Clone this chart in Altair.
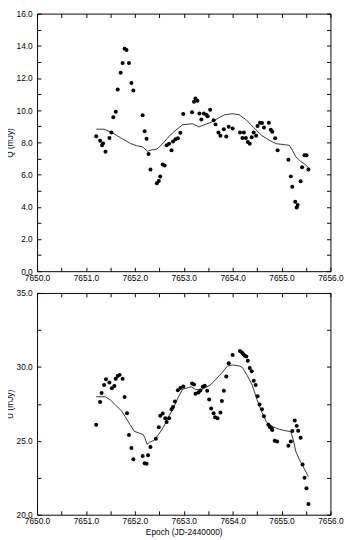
import altair as alt
import pandas as pd

# ---- data ----
q_x = [7651.21, 7651.29, 7651.33, 7651.35, 7651.40, 7651.48, 7651.52, 7651.56, 7651.61, 7651.65,
       7651.71, 7651.75, 7651.79, 7651.83, 7651.88, 7651.93, 7651.97, 7652.16, 7652.20, 7652.24,
       7652.28, 7652.32, 7652.45, 7652.49, 7652.52, 7652.57, 7652.61, 7652.65, 7652.70, 7652.75,
       7652.78, 7652.83, 7652.88, 7652.93, 7652.99, 7653.17, 7653.21, 7653.24, 7653.28, 7653.32,
       7653.36, 7653.41, 7653.46, 7653.49, 7653.54, 7653.61, 7653.65, 7653.71, 7653.75, 7653.82,
       7653.87, 7653.92, 7654.00, 7654.15, 7654.20, 7654.23, 7654.27, 7654.31, 7654.35, 7654.39,
       7654.43, 7654.48, 7654.51, 7654.56, 7654.60, 7654.64, 7654.74, 7654.78, 7654.81, 7654.87,
       7654.92, 7655.14, 7655.19, 7655.22, 7655.28, 7655.31, 7655.33, 7655.39, 7655.42, 7655.47,
       7655.51, 7655.55]
q_val = [8.38, 8.10, 7.82, 7.94, 7.42, 8.28, 8.62, 9.56, 9.90, 11.29,
         12.33, 12.93, 13.82, 13.74, 12.93, 11.69, 11.23, 9.68, 8.70, 8.22,
         7.28, 6.32, 5.47, 5.61, 5.88, 6.62, 6.56, 7.82, 7.92, 7.52,
         8.06, 8.20, 8.26, 8.60, 9.77, 9.88, 10.53, 10.73, 10.59, 9.79,
         9.42, 9.79, 9.72, 9.62, 10.03, 9.38, 9.12, 8.62, 8.42, 8.82,
         8.36, 8.98, 8.86, 8.62, 8.28, 8.62, 8.28, 8.02, 7.92, 8.32,
         8.62, 8.42, 9.02, 9.22, 9.20, 8.92, 9.22, 8.78, 8.66, 8.26,
         7.52, 6.92, 5.89, 5.25, 4.31, 3.95, 4.11, 5.58, 6.46, 7.20,
         7.20, 6.32]

q_line_x = [7651.21, 7651.37, 7651.53, 7651.70, 7651.92, 7652.03, 7652.16, 7652.26, 7652.35, 7652.45,
            7652.57, 7652.68, 7652.82, 7652.98, 7653.18, 7653.31, 7653.44, 7653.57, 7653.71, 7653.84,
            7654.00, 7654.13, 7654.27, 7654.43, 7654.60, 7654.76, 7654.89, 7655.06, 7655.16, 7655.22,
            7655.29, 7655.39, 7655.49, 7655.58]
q_line_val = [8.82, 8.82, 8.62, 8.30, 7.92, 7.80, 7.72, 7.45, 7.54, 7.58,
              7.92, 8.32, 8.72, 9.10, 9.16, 8.96, 9.12, 9.26, 9.52, 9.72,
              9.78, 9.72, 9.42, 8.92, 8.42, 8.12, 7.92, 7.86, 7.82, 7.52,
              7.12, 6.82, 6.62, 6.32]

u_x = [7651.21, 7651.29, 7651.32, 7651.37, 7651.41, 7651.48, 7651.53, 7651.58, 7651.61, 7651.65,
       7651.69, 7651.75, 7651.79, 7651.84, 7651.88, 7651.93, 7651.97, 7652.16, 7652.20, 7652.24,
       7652.27, 7652.32, 7652.43, 7652.49, 7652.52, 7652.57, 7652.62, 7652.65, 7652.70, 7652.75,
       7652.78, 7652.82, 7652.88, 7652.93, 7652.99, 7653.17, 7653.21, 7653.24, 7653.30, 7653.34,
       7653.39, 7653.43, 7653.48, 7653.52, 7653.56, 7653.61, 7653.64, 7653.69, 7653.75, 7653.78,
       7653.82, 7653.87, 7653.92, 7654.00, 7654.15, 7654.19, 7654.22, 7654.25, 7654.28, 7654.31,
       7654.35, 7654.39, 7654.43, 7654.47, 7654.51, 7654.55, 7654.60, 7654.64, 7654.73, 7654.76,
       7654.80, 7654.81, 7654.86, 7654.91, 7655.14, 7655.19, 7655.22, 7655.27, 7655.31, 7655.34,
       7655.39, 7655.43, 7655.47, 7655.51, 7655.55]
u_val = [26.09, 27.62, 28.23, 28.77, 29.16, 28.94, 28.55, 28.70, 29.20, 29.38,
         29.46, 29.20, 27.97, 26.87, 25.40, 24.52, 23.76, 23.98, 23.48, 23.44,
         24.02, 24.58, 25.14, 25.92, 26.70, 26.85, 26.53, 26.27, 26.53, 27.13,
         27.29, 27.66, 28.42, 28.58, 28.68, 28.88, 28.81, 28.18, 28.27, 28.40,
         28.66, 28.73, 28.38, 27.79, 27.19, 26.87, 26.59, 26.53, 26.92, 27.69,
         28.38, 29.35, 30.25, 30.80, 31.08, 30.97, 30.86, 30.75, 30.71, 30.42,
         29.92, 29.70, 29.06, 28.77, 28.01, 27.46, 27.13, 26.66, 26.09, 25.94,
         25.83, 25.73, 25.01, 24.96, 24.67, 24.96, 25.66, 26.38, 26.01, 25.68,
         25.21, 23.39, 22.50, 21.79, 20.72]

u_line_x = [7651.21, 7651.40, 7651.50, 7651.60, 7651.73, 7651.81, 7651.90, 7651.99, 7652.09, 7652.17,
            7652.21, 7652.25, 7652.30, 7652.39, 7652.49, 7652.59, 7652.68, 7652.78, 7652.88, 7652.98,
            7653.15, 7653.24, 7653.34, 7653.44, 7653.54, 7653.64, 7653.77, 7653.90, 7654.00, 7654.13,
            7654.20, 7654.30, 7654.40, 7654.50, 7654.60, 7654.69, 7654.83, 7654.96, 7655.09, 7655.19,
            7655.24, 7655.29, 7655.36, 7655.43, 7655.55]
u_line_val = [27.98, 27.98, 27.76, 27.44, 27.01, 26.60, 26.10, 25.64, 25.52, 25.42,
              25.16, 24.76, 24.90, 25.03, 25.45, 25.95, 26.58, 27.15, 27.90, 28.50,
              28.65, 28.48, 28.43, 28.59, 28.77, 29.09, 29.57, 30.07, 30.13, 30.07,
              29.96, 29.41, 28.76, 27.78, 26.92, 26.27, 25.94, 25.77, 25.68, 25.62,
              25.06, 24.30, 23.76, 23.33, 22.57]

x_ticks = [7650.0, 7650.5, 7651.0, 7651.5, 7652.0, 7652.5, 7653.0, 7653.5,
           7654.0, 7654.5, 7655.0, 7655.5, 7656.0]
q_ticks = [float(v) for v in range(0, 17)]
u_ticks = [20.0, 22.5, 25.0, 27.5, 30.0, 32.5, 35.0]

FONT = "Liberation Sans"
FS = 8.6
W = 303

common = dict(grid=False, domain=False, ticks=True, tickSize=4, offset=-4,
              tickColor="black", tickWidth=1, labelOverlap=False, labelFlush=False,
              labelFont=FONT, labelFontSize=FS, labelColor="black",
              titleFont=FONT, titleFontSize=FS, titleFontWeight="normal",
              titleColor="black")


def panel(px, pv, lx, lv, ytitle, ydom, yticks, ymod, height, xtitle, xpad):
    pts = pd.DataFrame({"x": px, "v": pv})
    ln = pd.DataFrame({"x": lx, "v": lv})
    xs = alt.Scale(domain=[7650, 7656], nice=False, zero=False)
    ys = alt.Scale(domain=ydom, nice=False, zero=False)
    xlab = "datum.value % 1 == 0 ? format(datum.value, '.1f') : ''"
    ylab = "datum.value % " + str(ymod) + " == 0 ? format(datum.value, '.1f') : ''"
    xkw = dict(orient="bottom", values=x_ticks, labelExpr=xlab, labelPadding=xpad,
               titlePadding=3, **common)
    if xtitle:
        x_axis = alt.Axis(title=xtitle, **xkw)
    else:
        x_axis = alt.Axis(title=None, **xkw)
    y_axis = alt.Axis(orient="left", values=yticks, labelExpr=ylab, labelPadding=5,
                      title=ytitle, titlePadding=2, **common)
    x_top = alt.Axis(orient="top", values=x_ticks, labels=False, title=None, **common)
    y_right = alt.Axis(orient="right", values=yticks, labels=False, title=None, **common)

    points = alt.Chart(pts).mark_circle(size=17, color="black", opacity=1).encode(
        x=alt.X("x:Q", scale=xs, axis=x_axis),
        y=alt.Y("v:Q", scale=ys, axis=y_axis),
    )
    line = alt.Chart(ln).mark_line(color="black", strokeWidth=0.8).encode(
        x=alt.X("x:Q", scale=xs, axis=x_top),
        y=alt.Y("v:Q", scale=ys, axis=y_right),
    )
    return alt.layer(points, line).resolve_axis(x="independent", y="independent").properties(
        width=W, height=height)


top = panel(q_x, q_val, q_line_x, q_line_val, "Q (mJy)", [0, 16], q_ticks, 2, 266, None, 2.5)
bottom = panel(u_x, u_val, u_line_x, u_line_val, "U (mJy)", [20, 35], u_ticks, 5, 229,
               "Epoch (JD-2440000)", 2)

chart = alt.vconcat(top, bottom, spacing=5.5).properties(
    padding={"left": -4, "top": -8, "right": 0, "bottom": 0}
).configure_view(stroke="black", strokeWidth=1)

chart.save("out.html", embed_options={"renderer": "svg", "actions": False})
